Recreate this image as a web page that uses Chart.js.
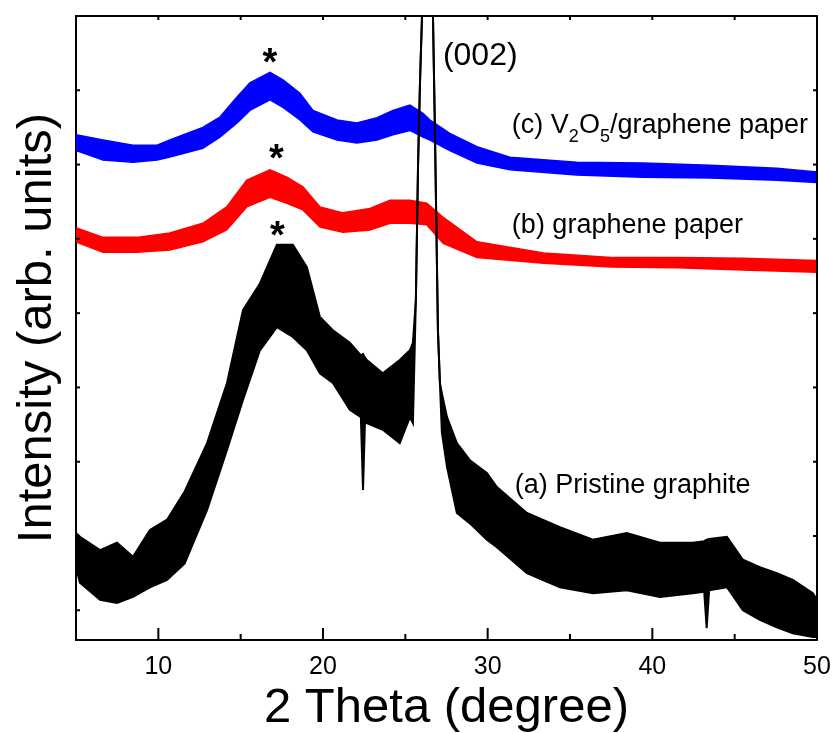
<!DOCTYPE html>
<html>
<head>
<meta charset="utf-8">
<script src="https://cdn.jsdelivr.net/npm/chart.js@4/dist/chart.umd.min.js"></script>
<style>
  body { margin: 0; background: #fff; }
  canvas { display: block; }
</style>
</head>
<body>
<canvas id="xrd" width="832" height="733"></canvas>
<script>
// x tick labels (2 theta, degree) and minor tick positions
const xTickValues = [10, 20, 30, 40, 50];
const xMinorTicks = [15, 25, 35, 45];
const topTicks = [10, 15, 20, 25, 30, 35, 40, 45];
// y axis has no labels, only small tick marks
const yTickValues = [0, 10, 20, 30, 40, 50, 60, 70];

// (a) Pristine graphite - upper / lower edge of the noisy trace
const thetaA = [5.0, 5.24, 6.46, 7.49, 8.46, 9.49, 10.53, 11.6, 12.96, 14.17, 15.14, 16.17, 17.2, 18.17,
  19.02, 19.81, 20.6, 21.63, 22.3, 22.43, 22.55, 22.66, 23.63, 24.66, 25.28, 25.46, 25.64, 25.77, 25.89,
  26.01, 26.3, 26.68, 26.8, 26.98, 27.1, 27.22, 27.53, 28.13, 28.92, 29.95, 30.56, 32.38, 34.39, 36.39,
  38.45, 40.46, 42.46, 43.15, 43.3, 43.45, 44.53, 45.5, 46.53, 47.56, 48.53, 49.75, 50.0];
const upperA = [10.4, 9.9, 8.1, 9.1, 7.2, 10.8, 12.2, 16.0, 22.5, 30.6, 40.4, 44.0, 49.2, 49.2,
  46.2, 39.5, 37.7, 36.0, 34.3, 34.5, 34.0, 33.7, 31.9, 33.7, 35.0, 36.0, 41.8, 59.7, 71.0,
  79.8, 130, 79.8, 64.2, 37.7, 30.6, 29.2, 26.0, 22.5, 20.2, 18.5, 16.6, 13.1, 11.2, 9.5,
  10.4, 9.1, 9.1, 9.3, 9.5, 9.6, 9.9, 6.8, 5.8, 5.0, 4.1, 2.3, 1.4];
const lowerA = [5.8, 3.7, 1.4, 1.0, 1.8, 3.1, 4.1, 6.3, 13.5, 21.6, 28.3, 35.0, 38.1, 36.8,
  35.0, 31.9, 30.6, 27.0, 26.0, 16.2, 25.5, 25.2, 24.3, 22.5, 26.0, 25.2, 41.8, 59.7, 71.0,
  79.8, 130, 79.8, 64.2, 37.7, 30.6, 23.9, 19.3, 13.1, 11.7, 9.5, 8.5, 5.0, 3.1, 2.3,
  2.7, 1.8, 2.3, 2.5, -2.4, 2.7, 3.1, 0.0, -1.3, -2.3, -3.1, -3.6, -3.6];

// (b) graphene paper
const thetaB = [5.0, 6.64, 8.7, 10.7, 12.7, 14.15, 15.37, 16.78, 17.81, 18.78, 19.82, 21.21, 22.85,
  24.07, 25.28, 26.3, 27.3, 29.35, 33.4, 37.5, 41.5, 45.5, 50.0];
const upperB = [51.5, 50.2, 50.2, 50.8, 52.1, 54.3, 57.9, 59.3, 58.3, 57.0, 54.3, 53.5, 54.1,
  55.2, 55.2, 54.8, 52.9, 49.6, 48.1, 47.5, 47.5, 47.4, 47.1];
const lowerB = [49.6, 48.2, 48.2, 48.5, 49.6, 51.2, 54.3, 55.6, 54.8, 53.9, 51.6, 50.9, 51.2,
  52.1, 52.1, 51.9, 49.4, 47.5, 46.7, 46.2, 46.1, 45.8, 45.5];

// (c) V2O5/graphene paper
const thetaC = [5.0, 6.64, 8.46, 9.92, 10.7, 12.7, 13.74, 14.78, 15.56, 16.78, 17.57, 18.6, 19.39,
  20.85, 22.06, 23.28, 24.25, 25.28, 26.07, 26.5, 27.7, 29.35, 31.35, 35.4, 39.4, 43.5, 47.56, 50.0];
const upperC = [64.0, 63.3, 62.6, 62.6, 63.3, 65.0, 66.4, 69.1, 71.0, 72.4, 71.4, 69.6, 67.3,
  66.0, 65.6, 66.3, 67.3, 68.0, 66.9, 66.0, 64.2, 62.4, 61.0, 60.3, 60.2, 59.9, 59.5, 59.0];
const lowerC = [61.9, 60.6, 60.3, 60.6, 61.0, 62.2, 63.7, 65.6, 67.3, 68.7, 67.7, 66.0, 64.4,
  63.3, 62.9, 63.3, 64.0, 64.6, 63.7, 63.3, 61.9, 60.2, 59.3, 58.6, 58.3, 58.2, 57.9, 57.6];

// text labels placed in data coordinates
const curveLabels = [
  { x: 31.47, y: 64.2, parts: [['(c) V'], ['2', 'sub'], ['O'], ['5', 'sub'], ['/graphene paper']] },
  { x: 31.47, y: 50.8, parts: [['(b) graphene paper']] },
  { x: 31.65, y: 15.8, parts: [['(a) Pristine graphite']] },
];
const peakLabel = { x: 27.28, y: 73.4, text: '(002)' };
const stars = [
  { x: 16.78, y: 74.7 },
  { x: 17.17, y: 61.7 },
  { x: 17.23, y: 51.4 },
];

const FONT = 'Arial, "Liberation Sans", sans-serif';

const toPoints = (xs, ys) => xs.map((x, i) => ({ x, y: ys[i] }));

const band = (xs, up, low, color, width) => [
  {
    data: toPoints(xs, up),
    borderColor: color,
    borderWidth: width,
    pointRadius: 0,
    fill: false,
  },
  {
    data: toPoints(xs, low),
    borderColor: color,
    backgroundColor: color,
    borderWidth: width,
    pointRadius: 0,
    fill: '-1',
  },
];

// frame, inward ticks and text annotations
const decorPlugin = {
  id: 'decor',
  afterDraw(chart) {
    const { ctx, chartArea: area, scales } = chart;
    const xs = scales.x, ys = scales.y;
    ctx.save();
    ctx.strokeStyle = '#000';
    ctx.lineWidth = 2;
    ctx.beginPath();
    ctx.moveTo(area.left, area.top);
    ctx.lineTo(area.right, area.top);
    ctx.lineTo(area.right, area.bottom);
    ctx.stroke();

    const tick = (x1, y1, x2, y2) => {
      ctx.beginPath();
      ctx.moveTo(x1, y1);
      ctx.lineTo(x2, y2);
      ctx.stroke();
    };
    xTickValues.forEach(v => {
      const px = xs.getPixelForValue(v);
      tick(px, area.bottom, px, area.bottom - 12);
    });
    xMinorTicks.forEach(v => {
      const px = xs.getPixelForValue(v);
      tick(px, area.bottom, px, area.bottom - 6);
    });
    topTicks.forEach(v => {
      const px = xs.getPixelForValue(v);
      tick(px, area.top, px, area.top + 4);
    });
    yTickValues.forEach(v => {
      const py = ys.getPixelForValue(v);
      tick(area.left, py, area.left + 4, py);
      tick(area.right, py, area.right - 4, py);
    });

    ctx.fillStyle = '#000';
    ctx.textBaseline = 'alphabetic';
    ctx.textAlign = 'left';
    curveLabels.forEach(lbl => {
      let px = xs.getPixelForValue(lbl.x);
      const py = ys.getPixelForValue(lbl.y);
      lbl.parts.forEach(([txt, kind]) => {
        if (kind === 'sub') {
          ctx.font = `18px ${FONT}`;
          ctx.fillText(txt, px, py + 9);
        } else {
          ctx.font = `27px ${FONT}`;
          ctx.fillText(txt, px, py);
        }
        px += ctx.measureText(txt).width;
      });
    });

    ctx.font = `32px ${FONT}`;
    ctx.fillText(peakLabel.text, xs.getPixelForValue(peakLabel.x), ys.getPixelForValue(peakLabel.y));

    ctx.font = `bold 38px ${FONT}`;
    const m = ctx.measureText('*');
    const midOff = (m.actualBoundingBoxAscent - m.actualBoundingBoxDescent) / 2;
    const midX = (m.actualBoundingBoxRight - m.actualBoundingBoxLeft) / 2;
    stars.forEach(s => {
      ctx.fillText('*', xs.getPixelForValue(s.x) - midX, ys.getPixelForValue(s.y) + midOff);
    });
    ctx.restore();
  }
};

new Chart(document.getElementById('xrd'), {
  type: 'line',
  data: {
    datasets: [
      ...band(thetaA, upperA, lowerA, '#000000', 2),
      ...band(thetaB, upperB, lowerB, '#ff0000', 1.5),
      ...band(thetaC, upperC, lowerC, '#0000ff', 1.5),
    ]
  },
  options: {
    responsive: false,
    animation: false,
    layout: { padding: { top: 16, right: 15, left: 0, bottom: 0 } },
    plugins: {
      legend: { display: false },
      tooltip: { enabled: false },
    },
    elements: { line: { tension: 0 } },
    scales: {
      x: {
        type: 'linear',
        min: 5,
        max: 50,
        afterBuildTicks: s => { s.ticks = xTickValues.map(v => ({ value: v })); },
        // let the last label hang over the edge like the original
        afterFit: s => { s.paddingRight = 0; s.paddingLeft = 0; },
        grid: { display: false, drawTicks: false },
        border: { display: true, color: '#000', width: 2 },
        ticks: {
          color: '#000',
          padding: 12,
          maxRotation: 0,
          autoSkip: false,
          font: { size: 25, family: FONT },
        },
        title: {
          display: true,
          text: '2 Theta (degree)',
          color: '#000',
          font: { size: 49, family: FONT, lineHeight: 1 },
          padding: { top: -10, bottom: 0 },
        },
      },
      y: {
        type: 'linear',
        min: -4,
        max: 80,
        afterBuildTicks: s => { s.ticks = yTickValues.map(v => ({ value: v })); },
        grid: { display: false, drawTicks: false },
        border: { display: true, color: '#000', width: 2 },
        ticks: { display: false },
        title: {
          display: true,
          text: 'Intensity (arb. units)',
          color: '#000',
          font: { size: 49, family: FONT, lineHeight: 1 },
          padding: { top: 12.5, bottom: 14.5 },
        },
      },
    },
  },
  plugins: [decorPlugin],
});
</script>
</body>
</html>
